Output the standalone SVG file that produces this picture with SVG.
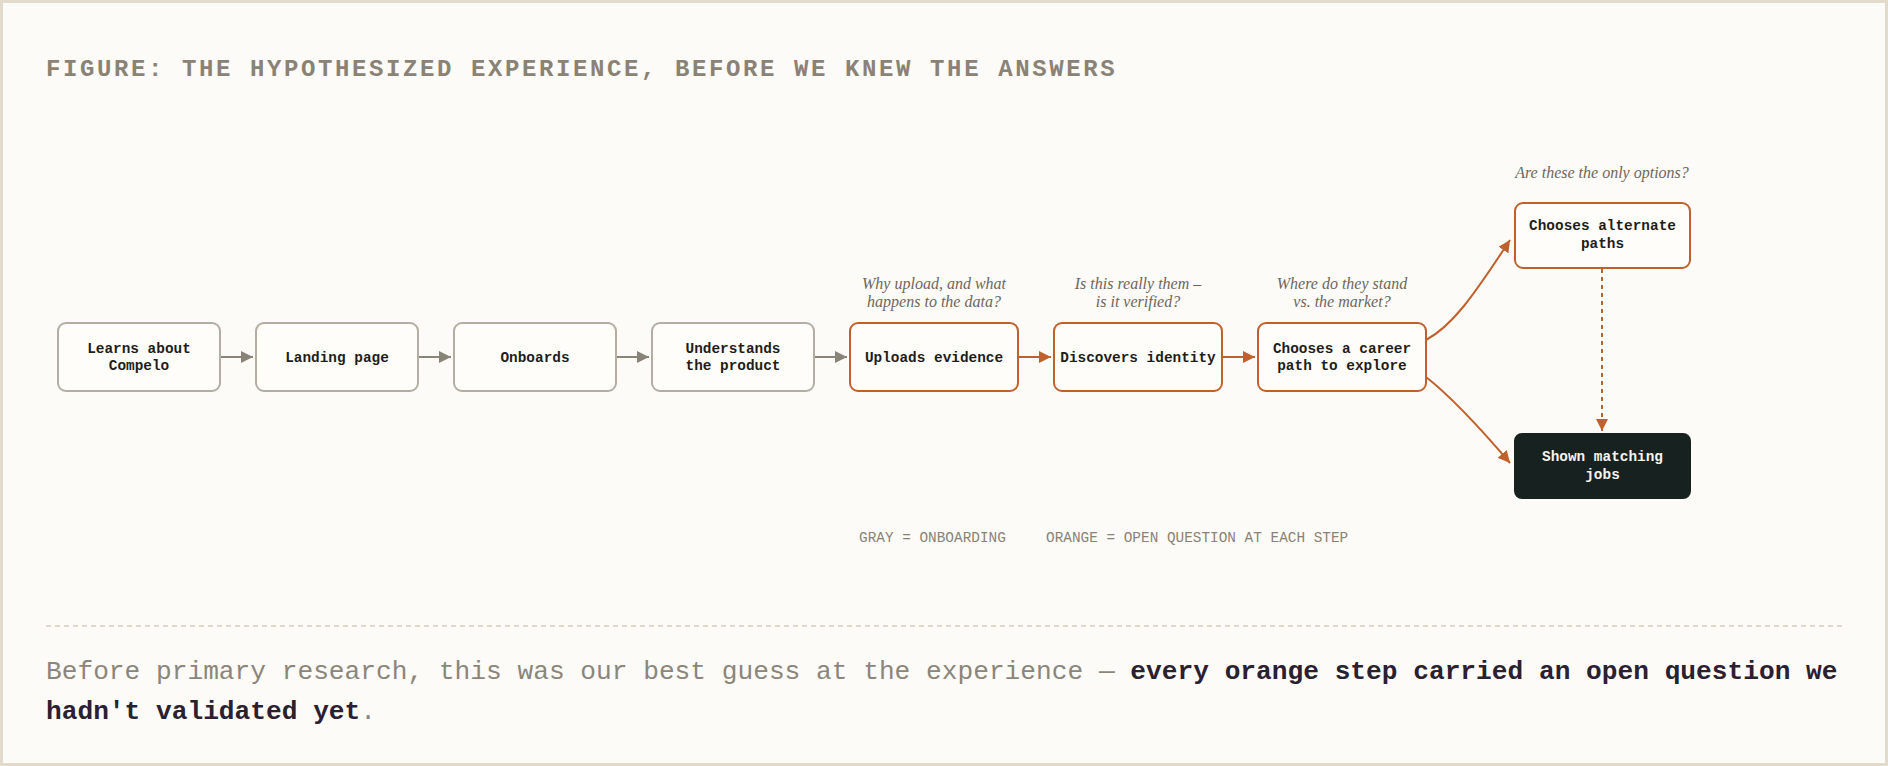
<svg xmlns="http://www.w3.org/2000/svg" width="1888" height="766" viewBox="0 0 1888 766">
<style>
.title{font-family:"Liberation Mono",monospace;font-size:24px;font-weight:bold;letter-spacing:2.6px;fill:#8b8276}
.box{fill:#fefdfa;stroke-width:2}
.gray{stroke:#b5ada1}
.orange{stroke:#c0612b}
.dark{fill:#172220;stroke:#172220;stroke-width:2}
.lbl{font-family:"Liberation Mono",monospace;font-size:14.4px;font-weight:bold;fill:#1f1d1b;text-anchor:middle}
.lblw{fill:#f6f3ec}
.note{font-family:"Liberation Serif",serif;font-style:italic;font-size:16px;fill:#6e665d;text-anchor:middle}
.legend{font-family:"Liberation Mono",monospace;font-size:14.4px;fill:#8b8276}
.body{font-family:"Liberation Mono",monospace;font-size:26.2px}
.light{fill:#8c857a}
.bold{fill:#2b2030;font-weight:bold}
.cg{fill:none;stroke:#8a8378;stroke-width:2}
.co{fill:none;stroke:#c0612b;stroke-width:2}
</style>
<defs>
<marker id="ahg" viewBox="0 0 12 12" refX="12" refY="6" markerWidth="12" markerHeight="12" markerUnits="userSpaceOnUse" orient="auto"><path d="M0,0 L12,6 L0,12 z" fill="#8a8378"/></marker>
<marker id="aho" viewBox="0 0 12 12" refX="12" refY="6" markerWidth="12" markerHeight="12" markerUnits="userSpaceOnUse" orient="auto"><path d="M0,0 L12,6 L0,12 z" fill="#c0612b"/></marker>
</defs>
<rect x="1.5" y="1.5" width="1885" height="763" fill="#fcfbf7" stroke="#e2dbcc" stroke-width="3"/>
<text class="title" x="46" y="76">FIGURE: THE HYPOTHESIZED EXPERIENCE, BEFORE WE KNEW THE ANSWERS</text>

<g id="connectors">
<line class="cg" x1="220" y1="357" x2="253" y2="357" marker-end="url(#ahg)"/>
<line class="cg" x1="418" y1="357" x2="451" y2="357" marker-end="url(#ahg)"/>
<line class="cg" x1="616" y1="357" x2="649" y2="357" marker-end="url(#ahg)"/>
<line class="cg" x1="814" y1="357" x2="847" y2="357" marker-end="url(#ahg)"/>
<line class="co" x1="1018" y1="357" x2="1051" y2="357" marker-end="url(#aho)"/>
<line class="co" x1="1222" y1="357" x2="1255" y2="357" marker-end="url(#aho)"/>
<path class="co" d="M1426 340 C1452 326 1472 298 1510 240" marker-end="url(#aho)"/>
<path class="co" d="M1426 377 Q1458 402 1510 463" marker-end="url(#aho)"/>
<line class="co" x1="1602" y1="269" x2="1602" y2="431" stroke-dasharray="4 4" marker-end="url(#aho)"/>
</g>

<g id="n1"><rect class="box gray" x="58" y="323" width="162" height="68" rx="8"/><text class="lbl" x="139" y="352.5">Learns about</text><text class="lbl" x="139" y="369.5">Compelo</text></g>
<g id="n2"><rect class="box gray" x="256" y="323" width="162" height="68" rx="8"/><text class="lbl" x="337" y="361.5">Landing page</text></g>
<g id="n3"><rect class="box gray" x="454" y="323" width="162" height="68" rx="8"/><text class="lbl" x="535" y="361.5">Onboards</text></g>
<g id="n4"><rect class="box gray" x="652" y="323" width="162" height="68" rx="8"/><text class="lbl" x="733" y="352.5">Understands</text><text class="lbl" x="733" y="369.5">the product</text></g>
<g id="n5"><text class="note" x="934" y="289">Why upload, and what</text><text class="note" x="934" y="307">happens to the data?</text><rect class="box orange" x="850" y="323" width="168" height="68" rx="8"/><text class="lbl" x="934" y="361.5">Uploads evidence</text></g>
<g id="n6"><text class="note" x="1138" y="289">Is this really them –</text><text class="note" x="1138" y="307">is it verified?</text><rect class="box orange" x="1054" y="323" width="168" height="68" rx="8"/><text class="lbl" x="1138" y="361.5">Discovers identity</text></g>
<g id="n7"><text class="note" x="1342" y="289">Where do they stand</text><text class="note" x="1342" y="307">vs. the market?</text><rect class="box orange" x="1258" y="323" width="168" height="68" rx="8"/><text class="lbl" x="1342" y="352.5">Chooses a career</text><text class="lbl" x="1342" y="369.5">path to explore</text></g>
<g id="n8"><text class="note" x="1602" y="178">Are these the only options?</text><rect class="box orange" x="1515" y="203" width="175" height="65" rx="8"/><text class="lbl" x="1602.5" y="230">Chooses alternate</text><text class="lbl" x="1602.5" y="248">paths</text></g>
<g id="n9"><rect class="dark" x="1515" y="434" width="175" height="64" rx="7"/><text class="lbl lblw" x="1602.5" y="460.5">Shown matching</text><text class="lbl lblw" x="1602.5" y="478.5">jobs</text></g>

<g id="legend"><text class="legend" x="859" y="542">GRAY = ONBOARDING</text><text class="legend" x="1046" y="542">ORANGE = OPEN QUESTION AT EACH STEP</text></g>

<line x1="46" y1="626" x2="1842" y2="626" stroke="#d4cdc0" stroke-width="1.5" stroke-dasharray="5 4"/>
<text class="body" x="46" y="679"><tspan class="light">Before primary research, this was our best guess at the experience — </tspan><tspan class="bold">every orange step carried an open question we</tspan></text>
<text class="body" x="46" y="719"><tspan class="bold">hadn't validated yet</tspan><tspan class="light">.</tspan></text>
</svg>
